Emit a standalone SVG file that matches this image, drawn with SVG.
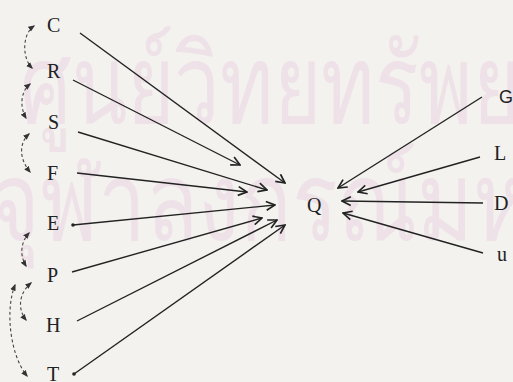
<svg xmlns="http://www.w3.org/2000/svg" width="513" height="382" viewBox="0 0 513 382">
<style>
.lbl{font-family:"Liberation Serif","Times New Roman",serif;font-size:20px;fill:#222}
.sans{font-family:"Liberation Sans",Arial,sans-serif;font-size:18px;fill:#222}
.ln{stroke:#222;stroke-width:1.4;fill:none;marker-end:url(#ah)}
.cv{stroke:#444;stroke-width:1.1;fill:none;stroke-dasharray:3 2.5;marker-start:url(#sh);marker-end:url(#sh)}
.wm{font-family:"Noto Sans","DejaVu Sans",sans-serif;fill:#eee2e8}
</style>
<defs>
<marker id="ah" viewBox="0 0 10 10" refX="9" refY="5" markerWidth="11" markerHeight="11" markerUnits="userSpaceOnUse" orient="auto">
<path d="M1,1 L9,5 L1,9" fill="none" stroke="#222" stroke-width="1.5"/>
</marker>
<marker id="sh" viewBox="0 0 10 10" refX="8" refY="5" markerWidth="7" markerHeight="7" markerUnits="userSpaceOnUse" orient="auto-start-reverse">
<path d="M0,1 L10,5 L0,9 z" fill="#333"/>
</marker>
</defs>
<rect width="513" height="382" fill="#f3f2ef"/>
<g id="watermark">
<text class="wm" x="20" y="123" font-size="110" textLength="500" lengthAdjust="spacingAndGlyphs">ศูนย์วิทยทรัพย</text>
<text class="wm" x="-10" y="240" font-size="110" textLength="540" lengthAdjust="spacingAndGlyphs">จุฬาลงกรณ์มห</text>
</g>
<g id="connectors">
<path class="ln" d="M80,33 L285,183"/>
<path class="ln" d="M73,80 L240,165"/>
<path class="ln" d="M78,132 L267,190"/>
<path class="ln" d="M77,173 L247,192"/>
<path class="ln" d="M73,225 L275,205"/>
<path class="ln" d="M72,272 L262,218"/>
<path class="ln" d="M77,321 L277,220"/>
<path class="ln" d="M74,374 L285,225"/>
<path class="ln" d="M482,97 L338,188"/>
<path class="ln" d="M480,157 L358,192"/>
<path class="ln" d="M483,203 L342,201"/>
<path class="ln" d="M483,253 L343,213"/>
<circle cx="73" cy="225" r="1.8" fill="#222"/>
<circle cx="74" cy="374" r="1.8" fill="#222"/>
<path class="cv" d="M34,26 C22,34 22,58 32,68"/>
<path class="cv" d="M30,84 C20,92 20,108 26,118"/>
<path class="cv" d="M29,134 C18,144 20,160 30,172"/>
<path class="cv" d="M29,233 C20,243 20,256 26,266"/>
<path class="cv" d="M31,283 C18,294 18,310 26,320"/>
<path class="cv" d="M15,285 C5,310 10,355 27,376"/>
</g>
<g id="node-C"><text class="lbl" x="47" y="32">C</text></g>
<g id="node-R"><text class="lbl" x="47" y="78">R</text></g>
<g id="node-S"><text class="lbl" x="48" y="129">S</text></g>
<g id="node-F"><text class="lbl" x="47" y="180">F</text></g>
<g id="node-E"><text class="lbl" x="47" y="230">E</text></g>
<g id="node-P"><text class="lbl" x="47" y="282">P</text></g>
<g id="node-H"><text class="lbl" x="46" y="332">H</text></g>
<g id="node-T"><text class="lbl" x="47" y="381">T</text></g>
<g id="node-Q"><text class="lbl" x="307" y="212">Q</text></g>
<g id="node-G"><text class="sans" x="499" y="103">G</text></g>
<g id="node-L"><text class="lbl" x="494" y="160">L</text></g>
<g id="node-D"><text class="lbl" x="494" y="210">D</text></g>
<g id="node-u"><text class="lbl" x="497" y="261">u</text></g>
</svg>
